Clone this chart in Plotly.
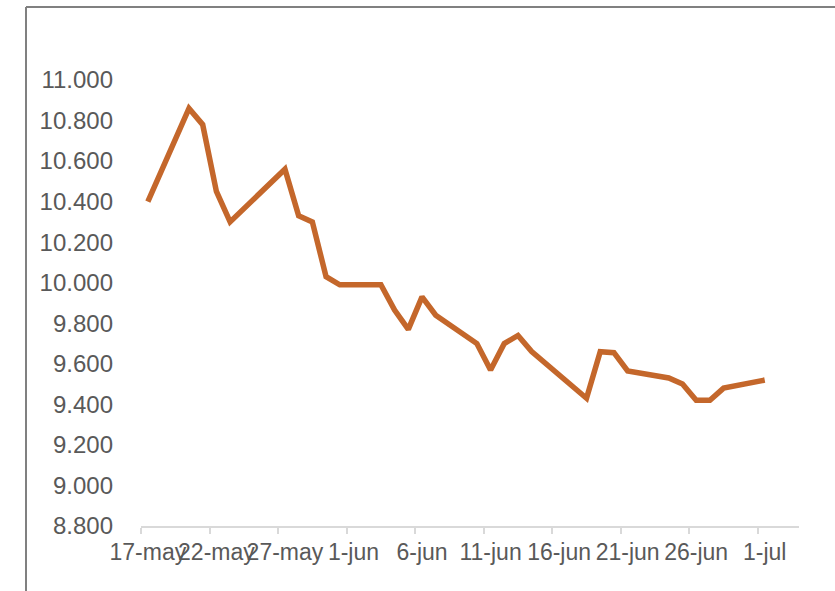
import plotly.graph_objects as go
import pandas as pd

dates = ["2019-05-17", "2019-05-20", "2019-05-21", "2019-05-22", "2019-05-23",
         "2019-05-27", "2019-05-28", "2019-05-29", "2019-05-30", "2019-05-31",
         "2019-06-03", "2019-06-04", "2019-06-05", "2019-06-06", "2019-06-07",
         "2019-06-10", "2019-06-11", "2019-06-12", "2019-06-13", "2019-06-14",
         "2019-06-18", "2019-06-19", "2019-06-20", "2019-06-21", "2019-06-24",
         "2019-06-25", "2019-06-26", "2019-06-27", "2019-06-28", "2019-07-01"]
values = [10.40, 10.86, 10.78, 10.45, 10.30,
          10.56, 10.33, 10.30, 10.03, 9.99,
          9.99, 9.865, 9.77, 9.93, 9.84,
          9.70, 9.57, 9.70, 9.74, 9.66,
          9.43, 9.66, 9.655, 9.565, 9.53,
          9.50, 9.42, 9.42, 9.48, 9.52]

tick_dates = ["2019-05-17", "2019-05-22", "2019-05-27", "2019-06-01", "2019-06-06",
              "2019-06-11", "2019-06-16", "2019-06-21", "2019-06-26", "2019-07-01"]
tick_labels = ["17-may", "22-may", "27-may", "1-jun", "6-jun",
               "11-jun", "16-jun", "21-jun", "26-jun", "1-jul"]
y_ticks = [8.8, 9.0, 9.2, 9.4, 9.6, 9.8, 10.0, 10.2, 10.4, 10.6, 10.8, 11.0]

half_day = pd.Timedelta(hours=12)
x = pd.to_datetime(dates)
tk = pd.to_datetime(tick_dates)
minor_vals = [t - half_day for t in tk]
x_range = [pd.Timestamp("2019-05-17") - half_day, pd.Timestamp("2019-07-03") + half_day]

fig = go.Figure()
fig.add_trace(go.Scatter(
    x=x, y=values, mode="lines",
    line=dict(color="#C4672B", width=5.5, shape="linear"),
    hoverinfo="skip", showlegend=False,
))

W, H = 835, 591
L, R, T, B = 141, 36, 80, 65
pw, ph = W - L - R, H - T - B
fx = (26 - L) / pw
fy = (H - B - 7) / ph

fig.update_layout(
    width=W, height=H,
    margin=dict(l=L, r=R, t=T, b=B),
    paper_bgcolor="white", plot_bgcolor="white",
    font=dict(family="Liberation Sans, Arial, sans-serif", size=23, color="#595959"),
    xaxis=dict(
        type="date", range=x_range,
        tickmode="array", tickvals=tk, ticktext=tick_labels,
        ticks="", showgrid=False, zeroline=False, tickangle=0,
        showline=True, linecolor="#D9D9D9", linewidth=1.5,
        ticklabelstandoff=5,
        minor=dict(tickmode="array", tickvals=minor_vals, ticks="outside",
                   ticklen=6, tickwidth=1.5, tickcolor="#D9D9D9", showgrid=False),
        fixedrange=True,
    ),
    yaxis=dict(
        range=[8.8, 11.0], tickmode="array", tickvals=y_ticks,
        ticktext=[f"{v:.3f}" for v in y_ticks],
        tickfont=dict(size=24),
        showgrid=False, zeroline=False, showline=False, ticks="",
        ticklabelstandoff=27,
        fixedrange=True,
    ),
    shapes=[
        dict(type="line", xref="paper", yref="paper", x0=fx, x1=1.2, y0=fy, y1=fy,
             line=dict(color="#808080", width=2)),
        dict(type="line", xref="paper", yref="paper", x0=fx, x1=fx, y0=fy, y1=-0.3,
             line=dict(color="#808080", width=2)),
    ],
)

fig.write_html("out.html", config={"displayModeBar": False},
               post_script="document.body.style.margin='0px';document.body.style.overflow='hidden';")
